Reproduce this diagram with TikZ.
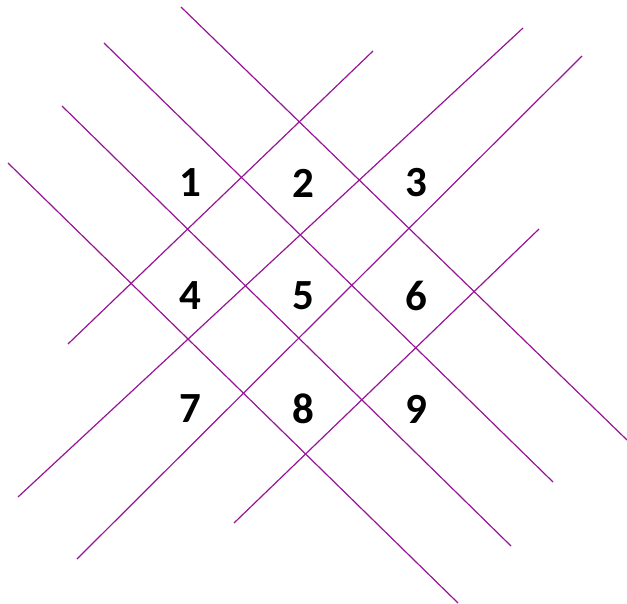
\documentclass[tikz,border=0pt]{standalone}
\usepackage{fontspec}
\setmainfont{Carlito}
\definecolor{gridpurple}{RGB}{150,20,150}
\begin{document}
\begin{tikzpicture}[x=1pt,y=-1pt,
  gline/.style={draw=gridpurple,line width=1.2pt},
  digit/.style={font=\fontsize{43}{43}\selectfont\bfseries,inner sep=0pt}]
\useasboundingbox (0,0) rectangle (627,604);
% down-right lines
\coordinate (a1) at (181,7);  \coordinate (b1) at (627,440);
\coordinate (a2) at (104,43); \coordinate (b2) at (553,482);
\coordinate (a3) at (62,106); \coordinate (b3) at (511,546);
\coordinate (a4) at (8,163);  \coordinate (b4) at (458,603);
\draw[gline] (a1) -- (b1);
\draw[gline] (a2) -- (b2);
\draw[gline] (a3) -- (b3);
\draw[gline] (a4) -- (b4);
% up-right lines
\coordinate (c1) at (68,344);  \coordinate (d1) at (373,51);
\coordinate (c2) at (18,497);  \coordinate (d2) at (523,28);
\coordinate (c3) at (77,559);  \coordinate (d3) at (582,56);
\coordinate (c4) at (234,523); \coordinate (d4) at (539,229);
\draw[gline] (c1) -- (d1);
\draw[gline] (c2) -- (d2);
\draw[gline] (c3) -- (d3);
\draw[gline] (c4) -- (d4);
% digits
\node[digit] (n1) at (190,183) {1};
\node[digit] (n2) at (303,183) {2};
\node[digit] (n3) at (416,183) {3};
\node[digit] (n4) at (190,296) {4};
\node[digit] (n5) at (303,296) {5};
\node[digit] (n6) at (416,296) {6};
\node[digit] (n7) at (190,409) {7};
\node[digit] (n8) at (303,409) {8};
\node[digit] (n9) at (416,409) {9};
\end{tikzpicture}
\end{document}
